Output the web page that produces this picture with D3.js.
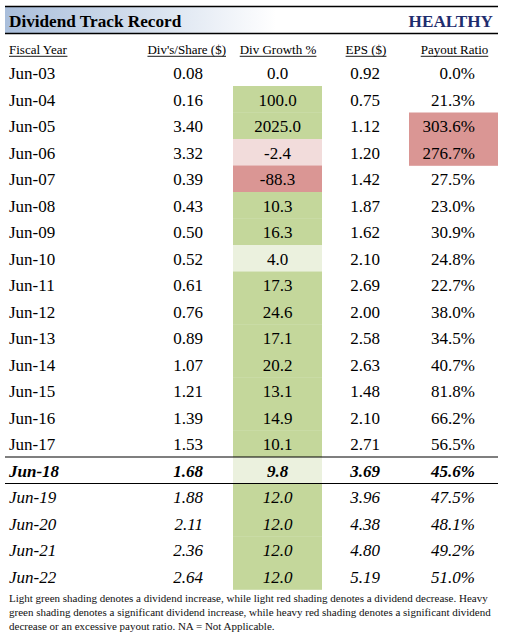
<!DOCTYPE html>
<html><head><meta charset="utf-8">
<script src="https://cdn.jsdelivr.net/npm/d3@7"></script>
<style>body{margin:0;background:#fff;} svg{display:block;}</style>
</head><body>
<div id="chart"></div>
<script>
const title = "Dividend Track Record";
const rating = "HEALTHY";
const headers = ["Fiscal Year", "Div's/Share ($)", "Div Growth %", "EPS ($)", "Payout Ratio"];
const years = ["Jun-03","Jun-04","Jun-05","Jun-06","Jun-07","Jun-08","Jun-09","Jun-10","Jun-11","Jun-12","Jun-13","Jun-14","Jun-15","Jun-16","Jun-17","Jun-18","Jun-19","Jun-20","Jun-21","Jun-22"];
const divs = [0.08,0.16,3.40,3.32,0.39,0.43,0.50,0.52,0.61,0.76,0.89,1.07,1.21,1.39,1.53,1.68,1.88,2.11,2.36,2.64];
const growth = [0.0,100.0,2025.0,-2.4,-88.3,10.3,16.3,4.0,17.3,24.6,17.1,20.2,13.1,14.9,10.1,9.8,12.0,12.0,12.0,12.0];
const eps = [0.92,0.75,1.12,1.20,1.42,1.87,1.62,2.10,2.69,2.00,2.58,2.63,1.48,2.10,2.71,3.69,3.96,4.38,4.80,5.19];
const payout = [0.0,21.3,303.6,276.7,27.5,23.0,30.9,24.8,22.7,38.0,34.5,40.7,81.8,66.2,56.5,45.6,47.5,48.1,49.2,51.0];
// shading codes: 0 none, 1 light green, 2 heavy green, 3 light red, 4 heavy red
const growthShade = [0,2,2,3,4,2,2,1,2,2,2,2,2,2,2,1,2,2,2,2];
const payoutShade = [0,0,4,4,0,0,0,0,0,0,0,0,0,0,0,0,0,0,0,0];
const rowStyle = ["n","n","n","n","n","n","n","n","n","n","n","n","n","n","n","bi","i","i","i","i"];
const footnote = [
  "Light green shading denotes a dividend increase, while light red shading denotes a dividend decrease. Heavy",
  "green shading denotes a significant dividend increase, while heavy red shading denotes a significant dividend",
  "decrease or an excessive payout ratio. NA = Not Applicable."
];

const W = 505, H = 639;
const FONT = "Liberation Serif";
const shadeColors = ["none","#ebf1de","#c4d79b","#f2dcdb","#da9694"];
const loc = d3.formatLocale({decimal:".", thousands:",", grouping:[3], currency:["$",""], minus:"-"});

const svg = d3.select("#chart").append("svg").attr("width", W).attr("height", H);

const defs = svg.append("defs");
const grad = defs.append("linearGradient").attr("id","tg").attr("x1","0").attr("x2","1").attr("y1","0").attr("y2","0");
grad.append("stop").attr("offset","0").attr("stop-color","#a9bedb");
grad.append("stop").attr("offset","0.55").attr("stop-color","#ffffff");
grad.append("stop").attr("offset","1").attr("stop-color","#ffffff");

// title bar
svg.append("rect").attr("x",5).attr("y",7).attr("width",493).attr("height",26).attr("fill","url(#tg)");
svg.append("line").attr("x1",5).attr("x2",498).attr("y1",6.5).attr("y2",6.5).attr("stroke","#000").attr("stroke-width",1.3);
svg.append("line").attr("x1",5).attr("x2",498).attr("y1",33.5).attr("y2",33.5).attr("stroke","#000").attr("stroke-width",1.3);
svg.append("text").attr("font-family",FONT).attr("x",9).attr("y",27).attr("font-size",17.2).attr("font-weight","bold").text(title);
svg.append("text").attr("font-family",FONT).attr("x",493).attr("y",27).attr("text-anchor","end").attr("font-size",17.2)
  .attr("font-weight","bold").attr("fill","#1f2d6e").text(rating);

// row scale
const y = d3.scaleBand().domain(years).range([59.5, 589.5]).padding(0);
const rh = y.bandwidth();

// column definitions
const cols = [
  {key:"year", x:9, anchor:"start", hx:9, hanchor:"start"},
  {key:"div", x:203, anchor:"end", hx:226, hanchor:"end"},
  {key:"growth", x:277.5, anchor:"middle", hx:278, hanchor:"middle", cellX:233, cellW:89},
  {key:"eps", x:380, anchor:"end", hx:366, hanchor:"middle"},
  {key:"payout", x:475, anchor:"end", hx:454.5, hanchor:"middle", cellX:409, cellW:89}
];

// header
const hg = svg.append("g");
headers.forEach((h,i)=>{
  const t = hg.append("text").attr("font-family",FONT).attr("x",cols[i].hx).attr("y",54).attr("text-anchor",cols[i].hanchor)
    .attr("font-size",13).text(h);
  const bb = t.node().getBBox();
  hg.append("line").attr("x1",bb.x).attr("x2",bb.x+bb.width).attr("y1",56.3).attr("y2",56.3)
    .attr("stroke","#000").attr("stroke-width",0.9);
});

const rows = years.map((yr,i)=>({yr, i, div:divs[i], growth:growth[i], eps:eps[i], payout:payout[i],
  gs:growthShade[i], ps:payoutShade[i], st:rowStyle[i]}));

// shading
svg.append("g").selectAll("rect").data(rows.filter(d=>d.gs>0)).join("rect")
  .attr("x",cols[2].cellX).attr("width",cols[2].cellW)
  .attr("y",d=>y(d.yr)).attr("height",rh+0.3).attr("fill",d=>shadeColors[d.gs]);
svg.append("g").selectAll("rect").data(rows.filter(d=>d.ps>0)).join("rect")
  .attr("x",cols[4].cellX).attr("width",cols[4].cellW)
  .attr("y",d=>y(d.yr)).attr("height",rh+0.3).attr("fill",d=>shadeColors[d.ps]);

// separator lines around Jun-18
const sepRow = "Jun-18";
[y(sepRow), y(sepRow)+rh].forEach(yy=>{
  svg.append("line").attr("x1",5).attr("x2",498).attr("y1",yy).attr("y2",yy).attr("stroke","#000").attr("stroke-width",1.1);
});

// text
const fmt = {
  year: d=>d.yr,
  div: d=>loc.format(".2f")(d.div),
  growth: d=>loc.format(".1f")(d.growth),
  eps: d=>loc.format(".2f")(d.eps),
  payout: d=>loc.format(".1f")(d.payout)+"%"
};
const tg = svg.append("g");
rows.forEach(d=>{
  cols.forEach(c=>{
    tg.append("text").attr("font-family",FONT).attr("x",c.x).attr("y",y(d.yr)+rh/2+6.5)
      .attr("text-anchor",c.anchor).attr("font-size",17)
      .attr("font-style", d.st==="n" ? "normal" : "italic")
      .attr("font-weight", d.st==="bi" ? "bold" : "normal")
      .text(fmt[c.key](d));
  });
});

// footnote
footnote.forEach((l,i)=>{
  svg.append("text").attr("font-family",FONT).attr("x",9).attr("y",602+i*14).attr("font-size",11).attr("fill","#111").text(l);
});
</script>
</body></html>
